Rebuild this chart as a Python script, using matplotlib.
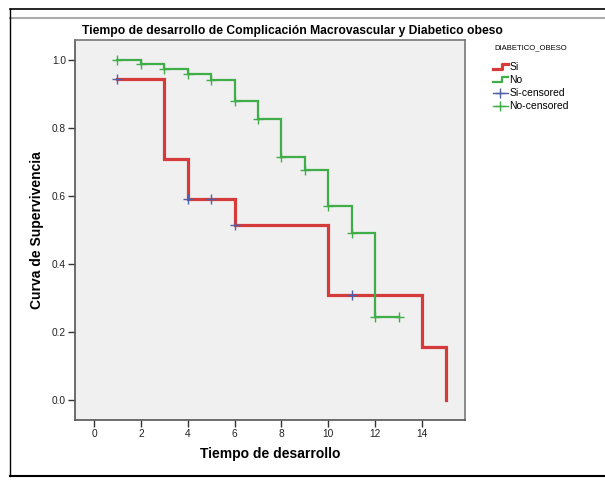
import matplotlib
matplotlib.use("Agg")
import matplotlib.pyplot as plt
from matplotlib.lines import Line2D
from matplotlib.legend_handler import HandlerBase

plt.rcParams['font.family'] = ['Liberation Sans', 'DejaVu Sans']

# datos (Kaplan-Meier)
si_tiempo = [1, 3, 4, 6, 10, 14, 15]
si_superv = [0.944, 0.708, 0.590, 0.516, 0.310, 0.155, 0.0]
si_cens_t = [1, 4, 5, 6, 11]
si_cens_s = [0.944, 0.590, 0.590, 0.516, 0.310]

no_tiempo = [1, 2, 3, 4, 5, 6, 7, 8, 9, 10, 11, 12, 13]
no_superv = [1.0, 0.988, 0.974, 0.960, 0.941, 0.878, 0.826, 0.714, 0.676, 0.571, 0.490, 0.245, 0.245]
no_cens_t = [1, 2, 3, 4, 5, 6, 7, 8, 9, 10, 11, 12, 13]
no_cens_s = [1.0, 0.988, 0.974, 0.960, 0.941, 0.878, 0.826, 0.714, 0.676, 0.571, 0.490, 0.245, 0.245]

xticks = [0, 2, 4, 6, 8, 10, 12, 14]
yticks = [0.0, 0.2, 0.4, 0.6, 0.8, 1.0]

rojo = '#d63b3b'
verde = '#3fae49'
azul = '#5060a8'


class HandlerEscalon(HandlerBase):
    # icono en forma de escalon como en SPSS
    def create_artists(self, legend, orig_handle, xdescent, ydescent, width, height, fontsize, trans):
        x0, x1 = -xdescent, -xdescent + width
        y0, y1 = -ydescent + 0.15 * height, -ydescent + 0.85 * height
        xm = x0 + 0.6 * width
        l = Line2D([x0, xm, xm, x1], [y0, y0, y1, y1],
                   color=orig_handle.get_color(), lw=orig_handle.get_linewidth(),
                   transform=trans)
        return [l]


fig = plt.figure(figsize=(6.05, 4.80), dpi=100)
ax = fig.add_axes([75 / 605, 60 / 480, 390 / 605, 380 / 480])
ax.set_facecolor('#f0f0f0')

l_si, = ax.step(si_tiempo, si_superv, where='post', color=rojo, lw=2.3, solid_joinstyle='miter')
l_no, = ax.step(no_tiempo, no_superv, where='post', color=verde, lw=1.6, solid_joinstyle='miter')
ax.plot(si_cens_t, si_cens_s, ls='none', marker='+', ms=7, mew=1.0, color=azul)
ax.plot(no_cens_t, no_cens_s, ls='none', marker='+', ms=7, mew=1.0, color=verde)

# manijas de leyenda para censurados: linea con +
h_si_c = Line2D([], [], color=azul, lw=1.0, marker='+', ms=7, mew=1.0)
h_no_c = Line2D([], [], color=verde, lw=1.0, marker='+', ms=7, mew=1.0)

ax.set_xlim(-0.81, 15.83)
ax.set_ylim(-0.0588, 1.0588)
ax.set_xticks(xticks)
ax.set_yticks(yticks)
ax.set_yticklabels(['%.1f' % v for v in yticks])
ax.tick_params(labelsize=7.3, length=5, width=1, color='#333333', labelcolor='#222222', pad=1.5)

for s in ax.spines.values():
    s.set_color('#777777')
    s.set_linewidth(1.2)
ax.spines['left'].set_color('#555555')
ax.spines['bottom'].set_color('#555555')

fig.text(82 / 605, 1 - 31 / 480,
         'Tiempo de desarrollo de Complicación Macrovascular y Diabetico obeso',
         fontsize=8.7, fontweight='bold', ha='left', va='center')
ax.set_xlabel('Tiempo de desarrollo', fontsize=10, fontweight='bold', labelpad=6)
ax.set_ylabel('Curva de Supervivencia', fontsize=10, fontweight='bold', labelpad=6)

leg = fig.legend([l_si, l_no, h_si_c, h_no_c], ['Si', 'No', 'Si-censored', 'No-censored'],
                 title='DIABETICO_OBESO', loc='upper left', bbox_to_anchor=(493 / 605, 1 - 44 / 480),
                 frameon=False, fontsize=7.5, title_fontsize=5.5, handlelength=1.4,
                 handletextpad=0.15, labelspacing=0.3, borderaxespad=0, borderpad=0,
                 handler_map={l_si: HandlerEscalon(), l_no: HandlerEscalon()})
leg._legend_box.sep = 8

# marco del visor
fig.add_artist(Line2D([10 / 605, 1], [1 - 9 / 480, 1 - 9 / 480], color='black', lw=1.2))
fig.add_artist(Line2D([10 / 605, 1], [1 - 18 / 480, 1 - 18 / 480], color='#aaaaaa', lw=1.5))
fig.add_artist(Line2D([10 / 605, 10 / 605], [4 / 480, 1 - 9 / 480], color='black', lw=1.0))
fig.add_artist(Line2D([10 / 605, 1], [4 / 480, 4 / 480], color='black', lw=1.5))

fig.savefig('out.png', dpi=100)
